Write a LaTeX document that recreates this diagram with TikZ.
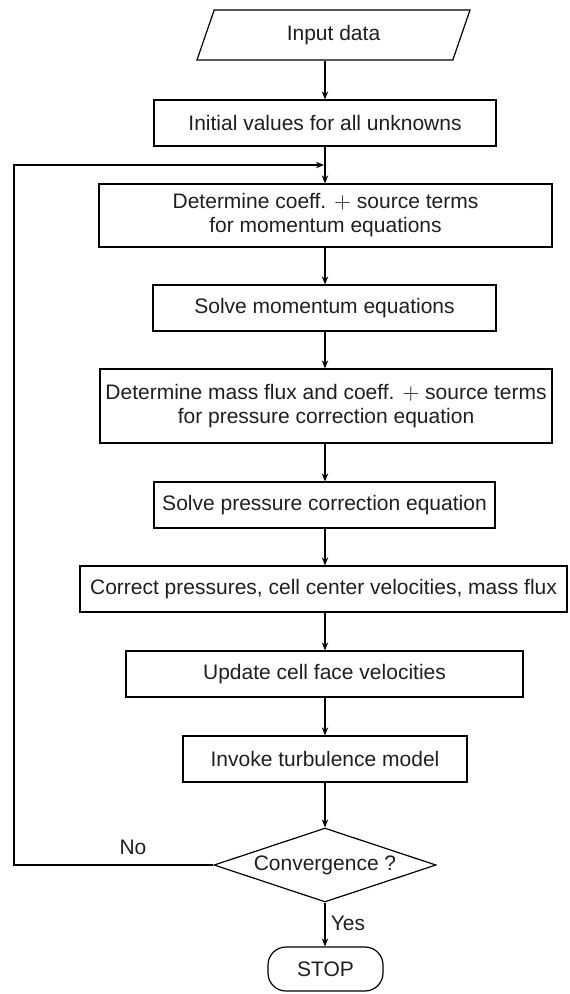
\documentclass[tikz,border=0pt]{standalone}
\usepackage{fontspec}
\setmainfont{Liberation Sans}
\usetikzlibrary{arrows.meta,calc,shapes.geometric}
\tikzset{pin/.style={-{Stealth[length=4pt,width=3.2pt]}},
  blk/.style={draw, line width=0.6pt, inner sep=2pt, minimum height=23pt, align=center},
  datain/.style={draw, line width=0.6pt, trapezium, trapezium left angle=71, trapezium right angle=109,
    minimum width=93.5pt, minimum height=25pt, inner sep=0pt},
  decide/.style={draw, line width=0.6pt, diamond, aspect=3, minimum width=111pt, minimum height=37pt, inner sep=0pt},
  term/.style={draw, line width=0.6pt, rounded corners=9pt, minimum width=57.5pt, minimum height=22pt}}

\begin{document}
\begin{tikzpicture}[x=0.5pt, y=-0.5pt, line width=0.6pt,
    font=\fontsize{10.5}{12}\selectfont, text=black!88]
  \useasboundingbox (0,0) rectangle (569,994);
  % flow blocks
  \node[datain] (in)   at (333.5,35)  {Input data};
  \node[blk, minimum width=171pt]   (init) at (325,123)   {Initial values for all unknowns};
  \node[blk, minimum width=226.5pt, minimum height=31.5pt] (cmom) at (325.5,215.5) {Determine coeff. $+$ source terms\\for momentum equations};
  \node[blk, minimum width=171.5pt] (smom) at (324.5,308) {Solve momentum equations};
  \node[blk, minimum width=226pt, minimum height=37pt]   (cprs) at (326,406) {Determine mass flux and coeff. $+$ source terms\\for pressure correction equation};
  \node[blk, minimum width=170.5pt] (sprs) at (324.5,505) {Solve pressure correction equation};
  \node[blk, minimum width=243.5pt] (corr) at (323.5,589) {Correct pressures, cell center velocities, mass flux};
  \node[blk, minimum width=198.5pt] (upd)  at (324.5,674) {Update cell face velocities};
  \node[blk, minimum width=142pt]   (turb) at (325,759)   {Invoke turbulence model};
  \node[decide] (conv) at (325,865) {Convergence ?};
  \node[term]   (stop) at (325.5,969) {STOP};
  \coordinate (ax) at (325,0);
  \coordinate (lp) at (14,165);
  % main chain
  \foreach \a/\b in {in/init, init/cmom, cmom/smom, smom/cprs, cprs/sprs, sprs/corr, corr/upd, upd/turb, turb/conv, conv/stop}{
    \draw[pin] (\a.south -| ax) -- (\b.north -| ax);}
  % iteration loop
  \draw[pin] (conv.west) -- (conv.west -| lp) -- (lp) -- ($(lp -| ax)+(-1,0)$);
  \node (lblno)  at (133,847) {No};
  \node (lblyes) at (348,923) {Yes};
\end{tikzpicture}
\end{document}
